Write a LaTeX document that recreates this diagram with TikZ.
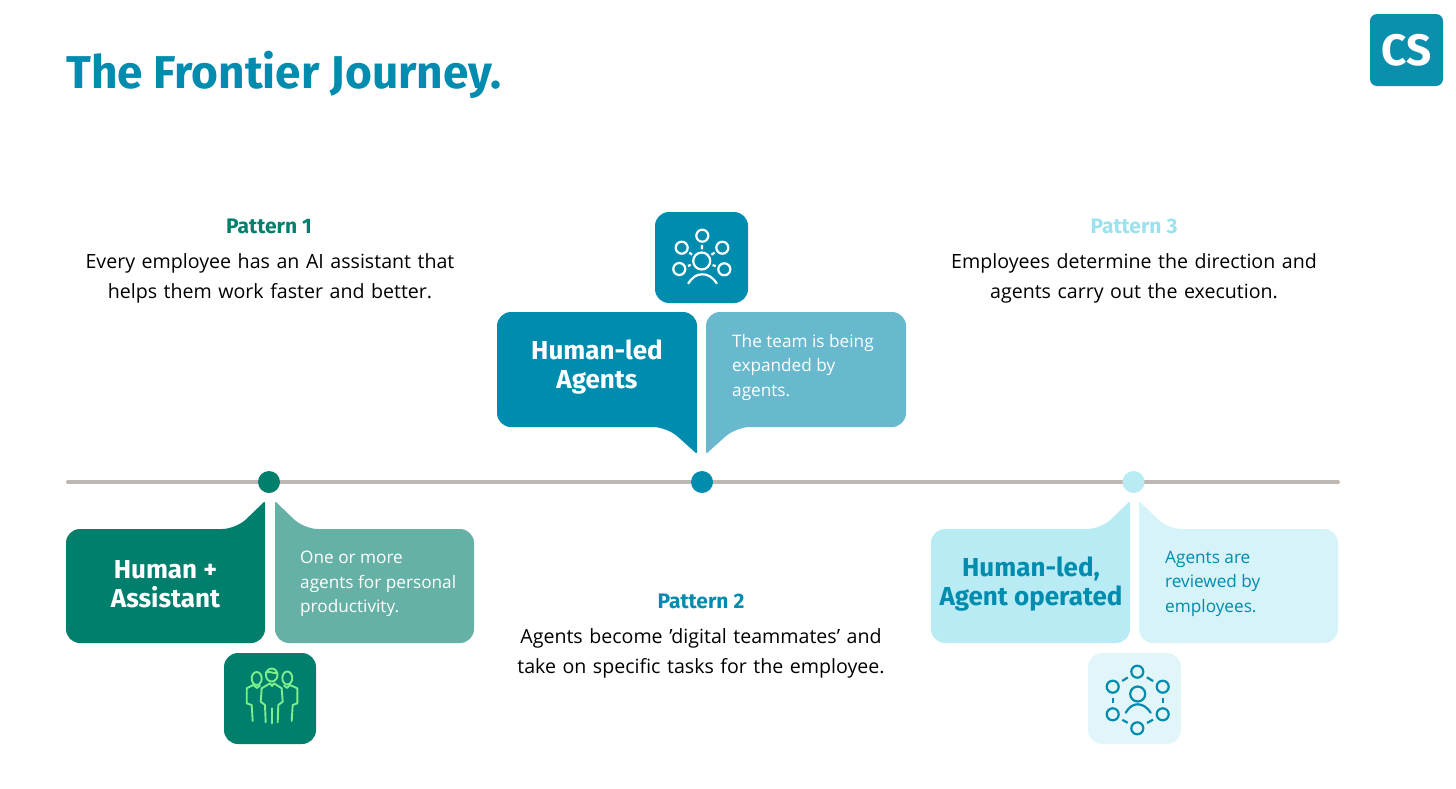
\documentclass[tikz,border=0pt]{standalone}
\usepackage{fontspec}
\setmainfont{Open Sans}
\newfontfamily\headfont{Fira Sans}
\definecolor{cGreen}{HTML}{007F6D}
\definecolor{cGreenM}{HTML}{66B1A6}
\definecolor{cBlue}{HTML}{008CAE}
\definecolor{cBlueM}{HTML}{68B8CE}
\definecolor{cCyan}{HTML}{B9EBF4}
\definecolor{cCyanL}{HTML}{D5F3F8}
\definecolor{cCyanP}{HTML}{E2F6FA}
\definecolor{cPat}{HTML}{9BE1EE}
\definecolor{cLine}{HTML}{BFB8B2}
\definecolor{cLogo}{HTML}{0A8FAD}
\definecolor{cMint}{HTML}{7CEE8C}
\newcommand\fs[2]{\fontsize{#1}{#2}\selectfont}
\tikzset{
  x=1pt,y=-1pt,
  bodytext/.style={align=center,inner sep=0pt,font=\fs{19.6}{29.3},text=black,text width=420pt},
  patlabel/.style={inner sep=0pt,font=\headfont\bfseries\fs{21}{25}},
  headtext/.style={align=center,inner sep=0pt,font=\headfont\bfseries\fs{26}{29.3}},
  subtext/.style={align=left,anchor=north west,inner sep=0pt,font=\fs{17.2}{24.4}},
  iconbox/.style={rounded corners=14pt},
  dot/.style={circle,inner sep=0pt,minimum size=22pt},
  ring/.style={circle,draw,line width=#1,inner sep=0pt,minimum size=12pt},
  link/.style={line width=2.2pt,shorten >=2pt,shorten <=2pt},
}
\begin{document}
\begin{tikzpicture}
\useasboundingbox (0,0) rectangle (1456,788);
\fill[white] (0,0) rectangle (1456,788);

% title and logo
\node[anchor=base west,inner sep=0pt,text=cBlue,font=\headfont\bfseries\fs{46}{50}] (title) at (66,88) {The Frontier Journey.};
\fill[cLogo,rounded corners=7pt] (1370,14) rectangle (1443,86);
\node[text=white,inner sep=0pt,font=\headfont\fontseries{b}\bfseries\fs{44}{44}] (logo) at (1406.5,50) {CS};

% timeline
\coordinate (lineL) at (68,482);
\coordinate (lineR) at (1338,482);
\draw[cLine,line width=4pt,line cap=round] (lineL) -- (lineR);
\node[dot,fill=cGreen] (dotA) at (269,482) {};
\node[dot,fill=cBlue] (dotB) at (702,482) {};
\node[dot,fill=cCyan] (dotC) at (1133.5,482) {};

% callouts pattern 1
\fill[cGreen,rounded corners=14pt] (66,643) -- (66,529) -- (236,529) [rounded corners=2pt] -- (265,501) [rounded corners=14pt] -- (265,643) -- cycle;
\fill[cGreenM,rounded corners=14pt] (474,643) -- (474,529) -- (304,529) [rounded corners=2pt] -- (275,501) [rounded corners=14pt] -- (275,643) -- cycle;
% callouts pattern 2
\fill[cBlue,rounded corners=14pt] (497,427) -- (497,312) -- (697,312) [rounded corners=2pt] -- (697,454) [rounded corners=14pt] -- (667,427) -- cycle;
\fill[cBlueM,rounded corners=14pt] (906,427) -- (906,312) -- (706,312) [rounded corners=2pt] -- (706,454) [rounded corners=14pt] -- (736,427) -- cycle;
% callouts pattern 3
\fill[cCyan,rounded corners=14pt] (931,643) -- (931,529) -- (1101,529) [rounded corners=2pt] -- (1130,501) [rounded corners=14pt] -- (1130,643) -- cycle;
\fill[cCyanL,rounded corners=14pt] (1338,643) -- (1338,529) -- (1168,529) [rounded corners=2pt] -- (1139,501) [rounded corners=14pt] -- (1139,643) -- cycle;

% icon boxes
\fill[cGreen,iconbox] (224,653) rectangle (316,744);
\fill[cBlue,iconbox] (655,212) rectangle (748,303);
\fill[cCyanP,iconbox] (1088,653) rectangle (1181,744);

% texts
\node[patlabel,text=cGreen] (patA) at (269,226) {Pattern 1};
\node[bodytext] (bodyA) at (270,278.5) {Every employee has an AI assistant that\\helps them work faster and better.};
\node[patlabel,text=cBlue] (patB) at (701,601) {Pattern 2};
\node[bodytext] (bodyB) at (701,653.5) {Agents become 'digital teammates' and\\take on specific tasks for the employee.};
\node[patlabel,text=cPat] (patC) at (1134,226) {Pattern 3};
\node[bodytext] (bodyC) at (1134,278.5) {Employees determine the direction and\\agents carry out the execution.};

\node[headtext,text=white] (headA) at (165.5,584) {Human +\\Assistant};
\node[headtext,text=white] (headB) at (597,367) {Human-led\\Agents};
\node[headtext,text=cBlue] (headC) at (1031,584) {Human-led,\\Agent operated};

\node[subtext,text=white] (subA) at (300,551) {One or more\\agents for personal\\productivity.};
\node[subtext,text=white] (subB) at (732,334) {The team is being\\expanded by\\agents.};
\node[subtext,text=cBlue] (subC) at (1165,551) {Agents are\\reviewed by\\employees.};

% icon: people
\begin{scope}[cMint,line width=1.9pt,line cap=round,line join=round]
\draw (271.7,675) ellipse (5.8 and 6.5);
\draw (265.7,672.5) .. controls (269,670.5) and (274,674) .. (277.5,673);
\draw (256.7,678.5) ellipse (5 and 6.5);
\draw (287.3,678) ellipse (5 and 6.5);
\draw (265.7,722.3) -- (265,705) -- (260.7,701.7) -- (261.7,688.3) -- (270,683.3) -- (272,686) -- (274,683.3) -- (281.7,688.3) -- (282.7,701.7) -- (278.3,705) -- (277.7,722.3);
\draw (271.7,708.3) -- (271.7,723.3);
\draw (252.7,721) -- (251.7,705) -- (246.7,703.3) -- (246.7,688.3) -- (253.3,685) -- (257,688) -- (260,685.5);
\draw (291.7,721) -- (292.7,705) -- (297.3,703.3) -- (297.3,688.3) -- (290,685) -- (287,688) -- (284,685.5);
\end{scope}

% icon: hub
\node[ring=2.2pt,draw=white,minimum size=17pt] (hubO) at (701.7,261) {};
\node[ring=2.2pt,draw=white] (hubT) at (702.3,235.7) {};
\node[ring=2.2pt,draw=white] (hubUL) at (681.7,247.7) {};
\node[ring=2.2pt,draw=white] (hubUR) at (722.3,247.7) {};
\node[ring=2.2pt,draw=white] (hubLL) at (679.3,269) {};
\node[ring=2.2pt,draw=white] (hubLR) at (724.3,269.3) {};
\draw[link,white] (hubO) -- (hubT);
\draw[link,white] (hubO) -- (hubUL);
\draw[link,white] (hubO) -- (hubUR);
\draw[link,white] (hubO) -- (hubLL);
\draw[link,white] (hubO) -- (hubLR);
\draw[white,line width=2.2pt,line cap=round] (688.3,283.3) .. controls (693,276.5) and (697,274.3) .. (702.3,274.3) .. controls (707.6,274.3) and (712,276.5) .. (716.7,283.3);

% icon: ring of agents
\node[ring=2.2pt,draw=cBlue,minimum size=15pt] (netO) at (1137.7,694) {};
\node[ring=2.2pt,draw=cBlue] (netT) at (1137.3,671.7) {};
\node[ring=2.2pt,draw=cBlue] (netUL) at (1112.7,686.7) {};
\node[ring=2.2pt,draw=cBlue] (netUR) at (1162.7,686.7) {};
\node[ring=2.2pt,draw=cBlue] (netLL) at (1112.7,714.3) {};
\node[ring=2.2pt,draw=cBlue] (netLR) at (1162.7,714.3) {};
\node[ring=2.2pt,draw=cBlue] (netB) at (1137.3,728.3) {};
\begin{scope}[link,cBlue,shorten >=4pt,shorten <=4pt]
\draw (netT) -- (netUL);
\draw (netT) -- (netUR);
\draw (netUL) -- (netLL);
\draw (netUR) -- (netLR);
\draw (netLL) -- (netB);
\draw (netLR) -- (netB);
\end{scope}
\draw[cBlue,line width=2.2pt,line cap=round] (1125.7,712.7) .. controls (1129,707) and (1133,704.3) .. (1137.7,704.3) .. controls (1142.4,704.3) and (1147,707) .. (1150.7,712.7);
\end{tikzpicture}
\end{document}
